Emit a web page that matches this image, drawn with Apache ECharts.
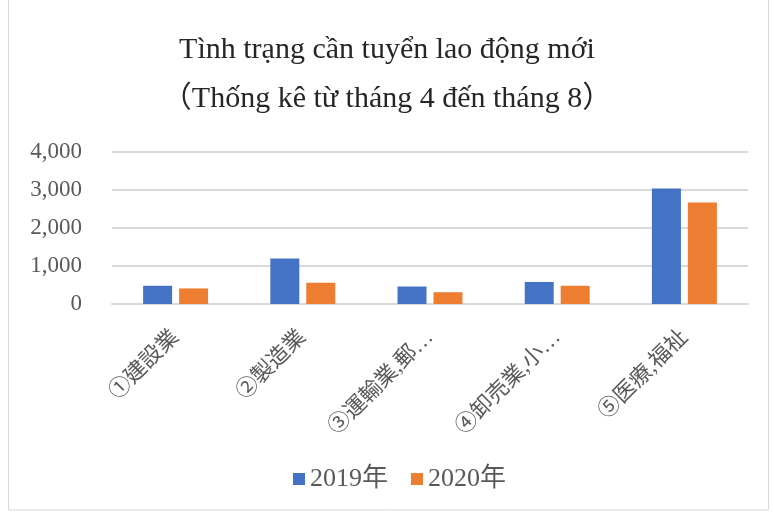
<!DOCTYPE html>
<html>
<head>
<meta charset="utf-8">
<script src="https://cdn.jsdelivr.net/npm/echarts@6/dist/echarts.min.js"></script>
<style>
html,body{margin:0;padding:0;background:#fff;}
#chart{width:774px;height:514px;}
</style>
</head>
<body>
<div id="chart"></div>
<script>
/* new job openings chart */
var categories = ['①建設業', '②製造業', '③運輸業,郵…', '④卸売業,小…', '⑤医療,福祉'];
var seriesNames = ['2019年', '2020年'];
var values2019 = [480, 1200, 460, 580, 3040];
var values2020 = [410, 560, 310, 480, 2670];
var yTicks = [0, 1000, 2000, 3000, 4000];

var serif = '"Liberation Serif", "DejaVu Serif", "Noto Sans CJK JP", serif';
var textColor = '#595959';

var myChart = echarts.init(document.getElementById('chart'));
var option = {
    backgroundColor:'#fff',
    color:['#4472c4', '#ed7d31'],
    animation:false,
    graphic:[{
        type:'rect',
        shape:{x:8.5, y:-1, width:760, height:511},
        style:{fill:'none', stroke:'#d9d9d9', lineWidth:1}
    }],
    title:{
        text:'Tình trạng cần tuyển lao động mới\n（Thống kê từ tháng 4 đến tháng 8）',
        left:'center',
        top:21,
        textStyle:{
            fontFamily:serif,
            fontSize:30,
            fontWeight:'normal',
            color:'#262626',
            lineHeight:49
        }
    },
    legend:{
        top:461,
        left:288,
        itemWidth:12,
        itemHeight:12,
        itemGap:23,
        icon:'rect',
        textStyle:{fontFamily:serif, fontSize:26, color:textColor},
        data:seriesNames
    },
    grid:{
        left:112,
        right:26,
        top:152,
        bottom:210,
        containLabel:false
    },
    xAxis:{
        type:'category',
        data:categories,
        axisLine:{lineStyle:{color:'#d9d9d9', width:2}},
        axisTick:{show:false},
        axisLabel:{
            rotate:45,
            interval:0,
            margin:30,
            fontFamily:serif,
            fontSize:22,
            color:textColor
        }
    },
    yAxis:{
        type:'value',
        min:yTicks[0],
        max:yTicks[yTicks.length - 1],
        interval:1000,
        axisLine:{show:false},
        axisTick:{show:false},
        splitLine:{lineStyle:{color:'#d9d9d9', width:2}},
        axisLabel:{
            margin:30,
            fontFamily:serif,
            fontSize:23,
            color:textColor,
            formatter:function(v){ return v.toLocaleString('en-US'); }
        }
    },
    series:[
        {
            name:seriesNames[0],
            type:'bar',
            barWidth:29,
            barGap:'24%',
            data:values2019
        },
        {
            name:seriesNames[1],
            type:'bar',
            barWidth:29,
            barGap:'24%',
            data:values2020
        }
    ]
};
myChart.setOption(option);
</script>
</body>
</html>
